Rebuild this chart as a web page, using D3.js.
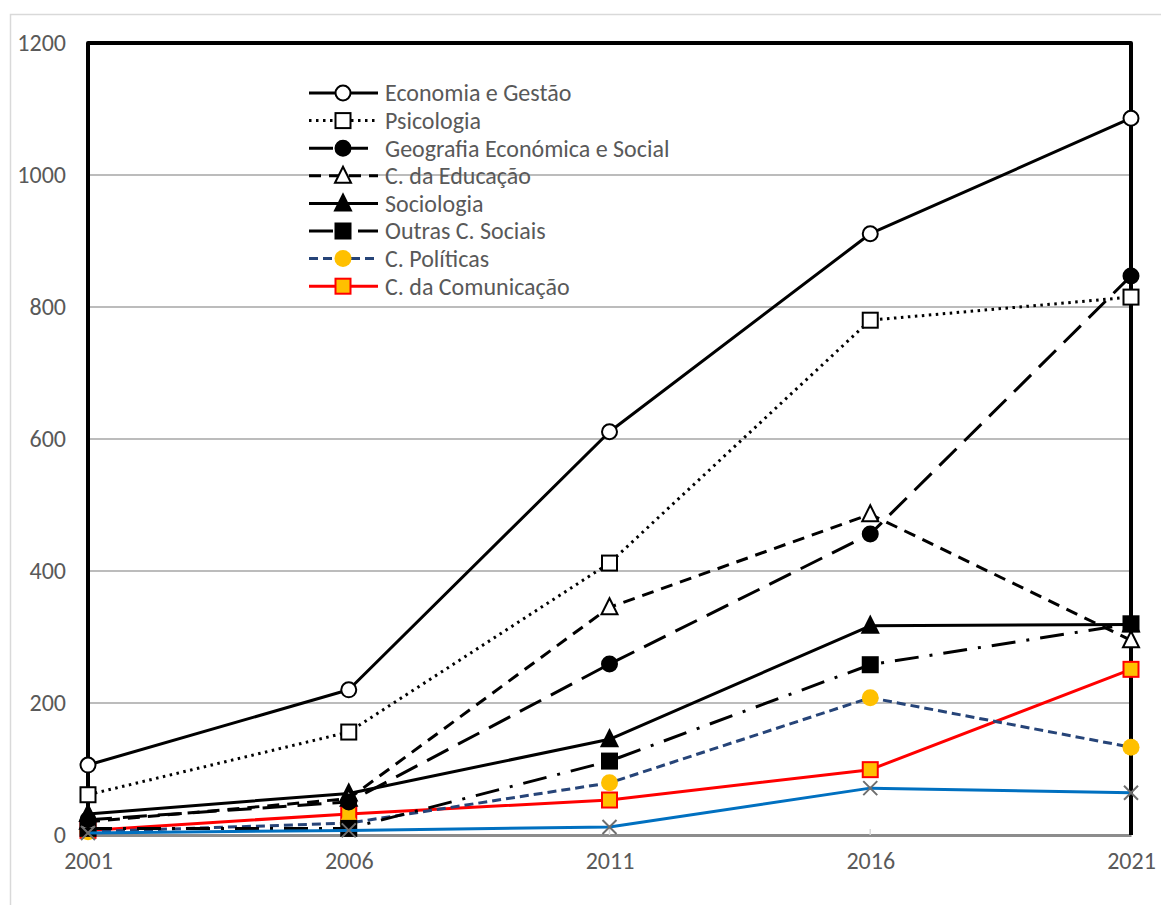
<!DOCTYPE html>
<html><head><meta charset="utf-8">
<script src="https://cdn.jsdelivr.net/npm/d3@7"></script>
<style>body{margin:0;background:#fff}svg{display:block}text{font-family:Carlito,Calibri,"Open Sans","Liberation Sans",sans-serif}</style>
</head><body><svg id="c" width="1161" height="905"></svg>
<script>
const years = [2001, 2006, 2011, 2016, 2021];
const yTicks = [0, 200, 400, 600, 800, 1000, 1200];
const seriesNames = ["Economia e Gestão","Psicologia","Geografia Económica e Social","C. da Educação","Sociologia","Outras C. Sociais","C. Políticas","C. da Comunicação"];
const economia   = [106, 220, 611, 911, 1086];
const psicologia = [61, 156, 412, 780, 815];
const geografia  = [23, 50, 259, 456, 847];
const educacao   = [20, 55, 345, 486, 295];
const sociologia = [32, 63, 145, 317, 319];
const outras     = [10, 10, 112, 258, 320];
const politicas  = [5, 18, 79, 208, 133];
const comunicacao= [7, 32, 53, 99, 251];
const outros     = [3, 7, 12, 71, 64];

const svg = d3.select("#c");
const x = d3.scaleLinear().domain([2001, 2021]).range([88, 1131]);
const y = d3.scaleLinear().domain([0, 1200]).range([835, 43]);

svg.append("rect").attr("x",10.5).attr("y",14.5).attr("width",1170).attr("height",910)
  .attr("fill","none").attr("stroke","#d9d9d9").attr("stroke-width",1.5);

svg.append("g").selectAll("line").data(yTicks.filter(d=>d>0&&d<1200)).join("line")
  .attr("x1",x(2001)).attr("x2",x(2021)).attr("y1",d=>y(d)).attr("y2",d=>y(d))
  .attr("stroke","#a6a6a6").attr("stroke-width",1.5);

const yAxis = d3.axisLeft(y).tickValues(yTicks).tickFormat(d3.format("d")).tickSize(0).tickPadding(22);
const gy = svg.append("g").attr("transform",`translate(${x(2001)},0)`).call(yAxis);
gy.select(".domain").remove();
gy.selectAll("text").attr("fill","#595959").style("font-size","24px");

const xAxis = d3.axisBottom(x).tickValues(years).tickFormat(d3.format("d")).tickSize(0).tickPadding(17);
const gx = svg.append("g").attr("transform",`translate(0,${y(0)})`).call(xAxis);
gx.select(".domain").attr("stroke","#8c8c8c").attr("stroke-width",3);
gx.selectAll("text").attr("fill","#595959").style("font-size","24px");
svg.append("g").selectAll("line").data(years).join("line")
  .attr("x1",d=>x(d)).attr("x2",d=>x(d)).attr("y1",y(0)-6).attr("y2",y(0))
  .attr("stroke","#d9d9d9").attr("stroke-width",1.5);

svg.append("path").attr("d",`M${x(2001)},${y(0)}V${y(1200)}H${x(2021)}V${y(0)}`)
  .attr("fill","none").attr("stroke","#000").attr("stroke-width",4).attr("stroke-linejoin","round");

const series = [
  {name:seriesNames[0], v:economia,   color:"#000", dash:null,           marker:"circle",   mfill:"#fff", mstroke:"#000"},
  {name:seriesNames[1], v:psicologia, color:"#000", dash:"2.5,4.5",      marker:"square",   mfill:"#fff", mstroke:"#000"},
  {name:seriesNames[2], v:geografia,  color:"#000", dash:"24,11",        marker:"circle",   mfill:"#000", mstroke:"#000"},
  {name:seriesNames[3], v:educacao,   color:"#000", dash:"12,8",         marker:"triangle", mfill:"#fff", mstroke:"#000"},
  {name:seriesNames[4], v:sociologia, color:"#000", dash:null,           marker:"triangle", mfill:"#000", mstroke:"#000"},
  {name:seriesNames[5], v:outras,     color:"#000", dash:"24,11,3,11",   marker:"square",   mfill:"#000", mstroke:"#000"},
  {name:seriesNames[6], v:politicas,  color:"#264478", dash:"9,5",      marker:"circle",   mfill:"#ffc000", mstroke:"none"},
  {name:seriesNames[7], v:comunicacao,color:"#ff0000", dash:null,        marker:"square",   mfill:"#ffc000", mstroke:"#ff0000"}
];
const extra = {name:"", v:outros, color:"#0070c0", dash:null, marker:"x", mfill:"none", mstroke:"#6e6e6e"};

const line = d3.line().x((d,i)=>x(years[i])).y(d=>y(d));

function drawMarker(g, s, cx, cy){
  if(s.marker==="circle"){
    const r = s.mfill==="#ffc000" ? 8.5 : 7.5;
    g.append("circle").attr("cx",cx).attr("cy",cy).attr("r",r)
      .attr("fill",s.mfill).attr("stroke",s.mstroke).attr("stroke-width",2);
  } else if(s.marker==="square"){
    const h = 7.5;
    g.append("rect").attr("x",cx-h).attr("y",cy-h).attr("width",2*h).attr("height",2*h)
      .attr("fill",s.mfill).attr("stroke",s.mstroke).attr("stroke-width",2);
  } else if(s.marker==="triangle"){
    g.append("path").attr("d",`M${cx},${cy-9}L${cx+8},${cy+7}L${cx-8},${cy+7}Z`)
      .attr("fill",s.mfill).attr("stroke",s.mstroke).attr("stroke-width",2).attr("stroke-linejoin","miter");
  } else if(s.marker==="x"){
    const h=7;
    g.append("path").attr("d",`M${cx-h},${cy-h}L${cx+h},${cy+h}M${cx-h},${cy+h}L${cx+h},${cy-h}`)
      .attr("stroke",s.mstroke).attr("stroke-width",2).attr("fill","none");
  }
}

function drawSeries(s){
  const g = svg.append("g");
  g.append("path").datum(s.v).attr("d",line).attr("fill","none")
    .attr("stroke",s.color).attr("stroke-width",3)
    .attr("stroke-dasharray",s.dash).attr("stroke-linejoin","round");
  s.v.forEach((d,i)=>drawMarker(g,s,x(years[i]),y(d)));
}
series.slice().reverse().forEach(drawSeries);
drawSeries(extra);

const lg = svg.append("g");
series.forEach((s,i)=>{
  const yy = 93 + i*27.6;
  lg.append("line").attr("x1",309).attr("x2",378).attr("y1",yy).attr("y2",yy)
    .attr("stroke",s.color).attr("stroke-width",3).attr("stroke-dasharray",s.dash);
  drawMarker(lg,s,343,yy);
  lg.append("text").attr("x",385).attr("y",yy).attr("dy","0.35em")
    .attr("fill","#595959").style("font-size","24px").text(s.name);
});
</script></body></html>
